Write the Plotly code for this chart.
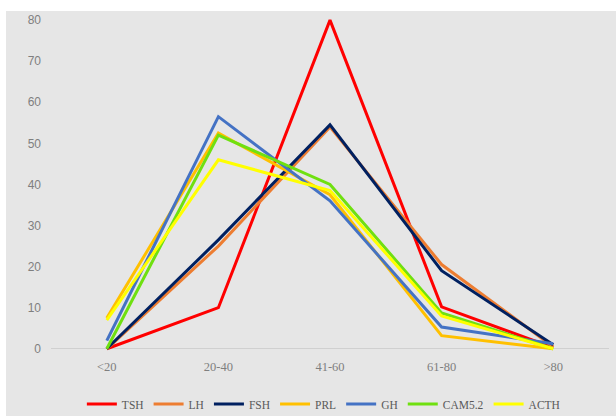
import plotly.graph_objects as go

categories = ["<20", "20-40", "41-60", "61-80", ">80"]
series_names = ["TSH", "LH", "FSH", "PRL", "GH", "CAM5.2", "ACTH"]
tsh = [0, 10, 80, 10.2, 0.3]
lh = [0, 25, 54, 20.5, 0.5]
fsh = [0, 26.5, 54.5, 19, 1]
prl = [7.5, 52.5, 37.5, 3.2, 0]
gh = [2, 56.5, 36, 5.3, 1.2]
cam52 = [0, 52, 40, 8.7, 0]
acth = [7, 46, 38.5, 8, 0]
y_ticks = [0, 10, 20, 30, 40, 50, 60, 70, 80]

values = [tsh, lh, fsh, prl, gh, cam52, acth]
colors = ["#FF0000", "#ED7D31", "#002060", "#FFC000", "#4472C4", "#6FE010", "#FFFF00"]

W, H = 616, 416
L, R, T, B = 51, 7, 16, 59
pw, ph = W - L - R, H - T - B

fig = go.Figure()
for name, vals, c in zip(series_names, values, colors):
    fig.add_trace(go.Scatter(x=categories, y=vals, mode="lines", name=name,
                             line=dict(color=c, width=3)))

bg = "#E6E6E6"
shapes = [
    dict(type="rect", xref="paper", yref="paper", layer="below",
         x0=-L / pw, x1=(6 - L) / pw, y0=-B / ph, y1=(H - B) / ph,
         fillcolor="white", line=dict(width=0)),
    dict(type="rect", xref="paper", yref="paper", layer="below",
         x0=-L / pw, x1=1 + R / pw, y0=(H - B - 11) / ph, y1=(H - B) / ph,
         fillcolor="white", line=dict(width=0)),
]

fig.update_layout(
    width=W, height=H,
    margin=dict(l=L, r=R, t=T, b=B, pad=0, autoexpand=False),
    paper_bgcolor=bg, plot_bgcolor=bg,
    shapes=shapes,
    showlegend=True,
    legend=dict(orientation="h", x=0.489, xanchor="center", y=(-404 + (H - B)) / ph,
                yanchor="middle", font=dict(family="Liberation Serif", size=11.5, color="#595959"),
                itemwidth=30, tracegroupgap=0, bgcolor="rgba(0,0,0,0)"),
    xaxis=dict(type="category", range=[-0.5, 4.5], showgrid=False, showline=False,
               automargin=False,
               ticks="", tickfont=dict(family="Liberation Serif", size=12.5, color="#7F7F7F"),
               zeroline=False),
    yaxis=dict(range=[-2, 81], tickvals=y_ticks, showgrid=False, showline=False,
               automargin=False,
               zeroline=True, zerolinecolor="#D0D0D0", zerolinewidth=1,
               ticks="", ticklabelstandoff=9,
               tickfont=dict(family="Liberation Sans", size=12, color="#7F7F7F")),
)

fig.write_html("out.html", config={"displayModeBar": False},
               post_script="document.body.style.margin='0';document.body.style.background='white';")
